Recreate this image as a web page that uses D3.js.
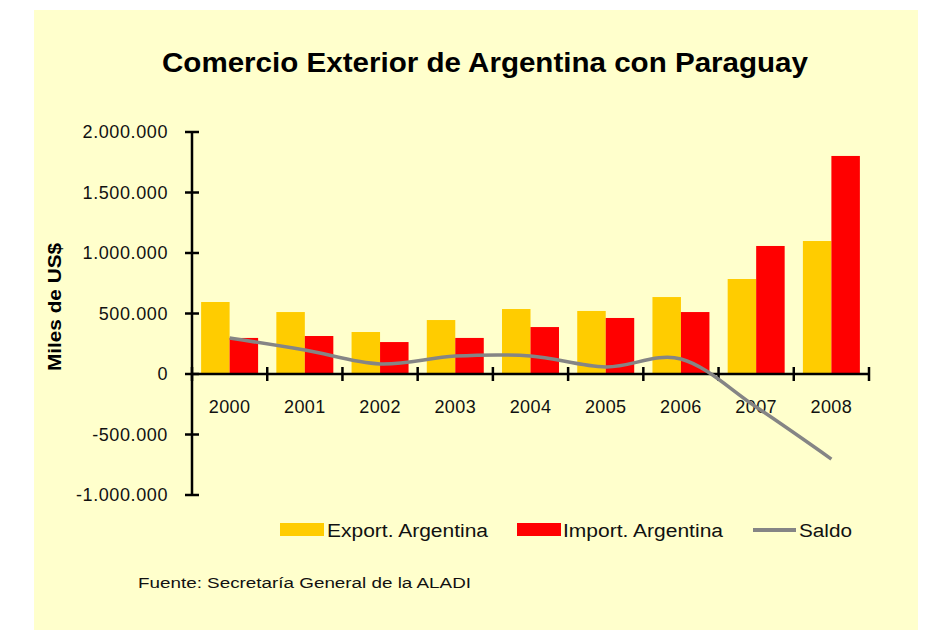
<!DOCTYPE html>
<html>
<head>
<meta charset="utf-8">
<script src="https://cdn.jsdelivr.net/npm/d3@7"></script>
<style>
  body { margin: 0; background: #fff; }
  svg { display: block; font-family: "Liberation Sans", Arial, sans-serif; }
</style>
</head>
<body>
<svg id="chart" width="926" height="630"></svg>
<script>
// values in miles de US$
const years = ["2000", "2001", "2002", "2003", "2004", "2005", "2006", "2007", "2008"];
const exportArg = [595000, 512000, 347000, 446000, 537000, 521000, 636000, 785000, 1099000];
const importArg = [298000, 314000, 264000, 298000, 388000, 463000, 512000, 1058000, 1802000];
const saldo = [297000, 198000, 83000, 148000, 149000, 58000, 124000, -273000, -703000];
const yTicks = [-1000000, -500000, 0, 500000, 1000000, 1500000, 2000000];

const svg = d3.select("#chart");

// fondo
svg.append("rect")
  .attr("x", 34).attr("y", 10)
  .attr("width", 884).attr("height", 620)
  .attr("fill", "#FFFFCC");

const x = d3.scaleBand().domain(years).range([192, 869]).padding(0);
const sub = d3.scaleBand().domain(["exp", "imp"]).range([0, x.bandwidth()])
  .paddingInner(0).paddingOuter(0.32);
const y = d3.scaleLinear().domain([-1000000, 2000000]).range([495, 132]);

const fmt = v => d3.format(",")(v).replace(/,/g, ".").replace("\u2212", "-");

// title
svg.append("text")
  .attr("x", 485).attr("y", 72)
  .attr("text-anchor", "middle")
  .attr("textLength", 646).attr("lengthAdjust", "spacingAndGlyphs")
  .style("font-size", "27px").style("font-weight", "bold")
  .text("Comercio Exterior de Argentina con Paraguay");

// bars
const groups = svg.append("g").selectAll("g")
  .data(years)
  .enter().append("g")
  .attr("transform", d => "translate(" + x(d) + ",0)");

groups.append("rect")
  .attr("x", sub("exp"))
  .attr("width", sub.bandwidth())
  .attr("y", (d, i) => y(exportArg[i]))
  .attr("height", (d, i) => y(0) - y(exportArg[i]))
  .attr("fill", "#FFCC00");

groups.append("rect")
  .attr("x", sub("imp"))
  .attr("width", sub.bandwidth())
  .attr("y", (d, i) => y(importArg[i]))
  .attr("height", (d, i) => y(0) - y(importArg[i]))
  .attr("fill", "#FF0000");

// y axis
const yAxis = svg.append("g");
yAxis.append("line")
  .attr("x1", 192).attr("x2", 192)
  .attr("y1", y(2000000)).attr("y2", y(-1000000))
  .attr("stroke", "#000").attr("stroke-width", 2.5);
yAxis.selectAll(".tick")
  .data(yTicks)
  .enter().append("line")
  .attr("x1", 185).attr("x2", 199)
  .attr("y1", d => y(d)).attr("y2", d => y(d))
  .attr("stroke", "#000").attr("stroke-width", 2.5);
yAxis.selectAll(".lbl")
  .data(yTicks)
  .enter().append("text")
  .attr("x", 168).attr("y", d => y(d))
  .attr("dy", "0.36em")
  .attr("text-anchor", "end")
  .style("font-size", "18px")
  .style("letter-spacing", "0.6px")
  .attr("fill", "#111")
  .text(fmt);

svg.append("text")
  .attr("transform", "translate(61,307) rotate(-90)")
  .attr("text-anchor", "middle")
  .attr("textLength", 128).attr("lengthAdjust", "spacingAndGlyphs")
  .style("font-size", "18px").style("font-weight", "bold")
  .text("Miles de US$");

// x axis
const xAxis = svg.append("g");
xAxis.append("line")
  .attr("x1", 192).attr("x2", 869)
  .attr("y1", y(0)).attr("y2", y(0))
  .attr("stroke", "#000").attr("stroke-width", 2.5);
xAxis.selectAll(".tick")
  .data(years.concat(["end"]))
  .enter().append("line")
  .attr("x1", d => d === "end" ? x.range()[1] : x(d))
  .attr("x2", d => d === "end" ? x.range()[1] : x(d))
  .attr("y1", y(0) - 7).attr("y2", y(0) + 7)
  .attr("stroke", "#000").attr("stroke-width", 2.5);
xAxis.selectAll(".lbl")
  .data(years)
  .enter().append("text")
  .attr("x", d => x(d) + x.bandwidth() / 2)
  .attr("y", 413)
  .attr("text-anchor", "middle")
  .style("font-size", "18px")
  .style("letter-spacing", "0.4px")
  .attr("fill", "#111")
  .text(d => d);

// saldo
const line = d3.line()
  .x((d, i) => x(years[i]) + x.bandwidth() / 2)
  .y(d => y(d))
  .curve(d3.curveCardinal.tension(0));

svg.append("path")
  .datum(saldo)
  .attr("d", line)
  .attr("fill", "none")
  .attr("stroke", "#858585")
  .attr("stroke-width", 3.5);

// legend
const legend = svg.append("g").style("font-size", "18px").attr("fill", "#111");
legend.append("rect").attr("x", 280).attr("y", 523).attr("width", 44).attr("height", 13).attr("fill", "#FFCC00");
legend.append("text").attr("x", 327).attr("y", 537)
  .attr("textLength", 161).attr("lengthAdjust", "spacingAndGlyphs")
  .text("Export. Argentina");
legend.append("rect").attr("x", 517).attr("y", 523).attr("width", 44).attr("height", 13).attr("fill", "#FF0000");
legend.append("text").attr("x", 563).attr("y", 537)
  .attr("textLength", 160).attr("lengthAdjust", "spacingAndGlyphs")
  .text("Import. Argentina");
legend.append("line").attr("x1", 753).attr("x2", 796).attr("y1", 530).attr("y2", 530)
  .attr("stroke", "#858585").attr("stroke-width", 4);
legend.append("text").attr("x", 799).attr("y", 537)
  .attr("textLength", 53).attr("lengthAdjust", "spacingAndGlyphs")
  .text("Saldo");

// fuente
svg.append("text")
  .attr("x", 138).attr("y", 588)
  .attr("textLength", 333).attr("lengthAdjust", "spacingAndGlyphs")
  .style("font-size", "15.5px")
  .attr("fill", "#111")
  .text("Fuente: Secretaría General de la ALADI");
</script>
</body>
</html>
